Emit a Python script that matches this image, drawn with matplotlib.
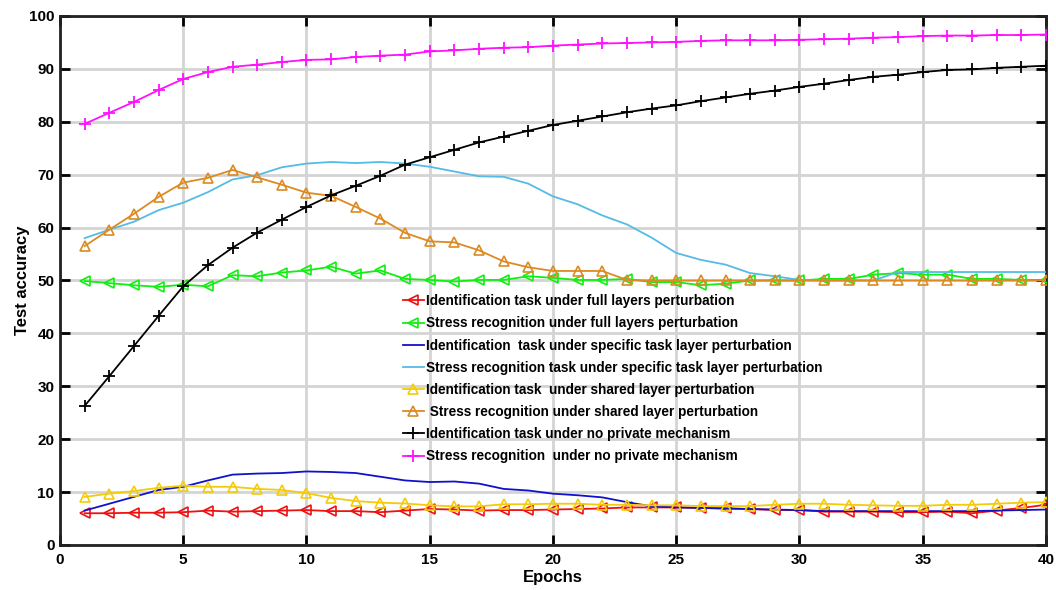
"""
plot.py — Test accuracy vs. epochs under different perturbation settings
"""
import numpy as np
import matplotlib
matplotlib.use("Agg")
import matplotlib.pyplot as plt


# ── Data ──────────────────────────────────────────────────────────────
EPOCHS = list(range(1, 41))

ID_FULL = [6.0, 6.0, 6.1, 6.1, 6.2, 6.5, 6.3, 6.4, 6.5, 6.6,
           6.4, 6.4, 6.2, 6.5, 6.8, 6.7, 6.5, 6.6, 6.6, 6.7,
           6.8, 6.9, 7.1, 7.1, 7.1, 7.0, 6.9, 6.8, 6.6, 6.6,
           6.3, 6.3, 6.3, 6.2, 6.2, 6.3, 6.0, 6.5, 7.0, 7.6]

STRESS_FULL = [49.9, 49.5, 49.1, 48.8, 49.2, 48.9, 51.0, 50.8, 51.5, 51.9,
               52.6, 51.3, 51.9, 50.3, 50.1, 49.8, 50.1, 50.1, 50.8, 50.5,
               50.1, 50.1, 50.3, 49.7, 49.7, 49.1, 49.4, 50.0, 50.0, 50.0,
               50.3, 50.3, 51.1, 51.4, 51.1, 51.1, 50.3, 50.3, 50.1, 50.1]

ID_SPECIFIC = [6.5, 7.8, 9.1, 10.4, 11.0, 12.2, 13.3, 13.5, 13.6, 13.9,
               13.8, 13.6, 12.9, 12.2, 11.9, 12.0, 11.6, 10.6, 10.3, 9.7,
               9.4, 9.0, 8.1, 7.3, 7.1, 7.0, 6.9, 6.8, 6.7, 6.6,
               6.4, 6.4, 6.4, 6.4, 6.4, 6.4, 6.4, 6.5, 6.6, 6.7]

STRESS_SPECIFIC = [58.0, 59.6, 61.1, 63.3, 64.7, 66.7, 69.1, 69.9, 71.4, 72.1,
                   72.4, 72.2, 72.4, 72.1, 71.5, 70.6, 69.7, 69.6, 68.3, 65.9,
                   64.4, 62.3, 60.6, 58.1, 55.2, 53.9, 53.0, 51.4, 50.8, 50.1,
                   50.0, 50.0, 50.0, 51.6, 51.6, 51.6, 51.6, 51.6, 51.6, 51.6]

ID_SHARED = [9.1, 9.7, 10.2, 10.8, 11.2, 11.0, 11.0, 10.6, 10.4, 9.8,
             8.9, 8.3, 8.0, 7.85, 7.5, 7.3, 7.3, 7.7, 7.7, 7.8,
             7.8, 7.6, 7.6, 7.5, 7.5, 7.35, 7.35, 7.35, 7.6, 7.8,
             7.8, 7.6, 7.5, 7.4, 7.4, 7.6, 7.6, 7.8, 8.0, 8.1]

STRESS_SHARED = [56.5, 59.6, 62.6, 65.8, 68.5, 69.4, 70.9, 69.5, 68.1, 66.6,
                 66.0, 63.9, 61.7, 59.0, 57.4, 57.2, 55.7, 53.6, 52.5, 51.8,
                 51.8, 51.8, 50.1, 50.0, 50.0, 50.0, 50.0, 50.0, 50.0, 50.0,
                 50.0, 50.0, 50.0, 50.0, 50.0, 50.0, 50.0, 50.0, 50.0, 50.0]

ID_NO_PRIVATE = [26.3, 31.9, 37.6, 43.3, 48.9, 52.9, 56.2, 59.05, 61.5, 63.9,
                 66.1, 67.9, 69.8, 71.9, 73.3, 74.7, 76.1, 77.2, 78.3, 79.4,
                 80.2, 81.0, 81.8, 82.5, 83.1, 83.9, 84.6, 85.3, 85.9, 86.6,
                 87.2, 87.9, 88.5, 88.9, 89.4, 89.8, 89.9, 90.2, 90.4, 90.6]

STRESS_NO_PRIVATE = [79.6, 81.7, 83.75, 86.0, 88.1, 89.4, 90.4, 90.8, 91.3, 91.7,
                     91.8, 92.25, 92.5, 92.7, 93.3, 93.5, 93.8, 94.0, 94.1, 94.4,
                     94.6, 94.8, 94.9, 95.0, 95.1, 95.3, 95.4, 95.4, 95.4, 95.5,
                     95.6, 95.7, 95.9, 96.0, 96.2, 96.3, 96.3, 96.4, 96.4, 96.5]

LABELS = [
    "Identification task under full layers perturbation",
    "Stress recognition under full layers perturbation",
    "Identification  task under specific task layer perturbation",
    "Stress recognition task under specific task layer perturbation",
    "Identification task  under shared layer perturbation",
    " Stress recognition under shared layer perturbation",
    "Identification task under no private mechanism",
    "Stress recognition  under no private mechanism",
]

X_TICKS = list(range(0, 41, 5))
Y_TICKS = list(range(0, 101, 10))


# ── Style ─────────────────────────────────────────────────────────────
plt.rcParams["font.family"] = ["Liberation Sans", "DejaVu Sans"]
plt.rcParams["font.weight"] = "bold"

# (series, color, marker)
SERIES = [
    (ID_FULL,           "#ee1111", "<"),
    (STRESS_FULL,       "#11ee11", "<"),
    (ID_SPECIFIC,       "#1111cc", None),
    (STRESS_SPECIFIC,   "#55bbe6", None),
    (ID_SHARED,         "#f2cc0a", "^"),
    (STRESS_SHARED,     "#dc8a22", "^"),
    (ID_NO_PRIVATE,     "#000000", "+"),
    (STRESS_NO_PRIVATE, "#ff11ff", "+"),
]


# ── Plot ──────────────────────────────────────────────────────────────
fig = plt.figure(figsize=(10.56, 5.9), dpi=100)
ax = fig.add_axes([0.0568, 0.0763, 0.9337, 0.8966])

for (vals, color, marker), label in zip(SERIES, LABELS):
    if marker is None:
        ax.plot(EPOCHS, vals, color=color, lw=1.3, label=label, zorder=3)
    elif marker == "+":
        ax.plot(EPOCHS, vals, color=color, lw=1.3, marker="+",
                markersize=9, markeredgewidth=1.3, label=label, zorder=3)
    else:
        ax.plot(EPOCHS, vals, color=color, lw=1.3, marker=marker,
                markersize=7.5, markerfacecolor="none",
                markeredgewidth=1.2, label=label, zorder=3)

ax.set_xlim(0, 40)
ax.set_ylim(0, 100)
ax.set_xticks(X_TICKS)
ax.set_yticks(Y_TICKS)
ax.grid(True, color="#d4d4d4", lw=2.0, zorder=0)
ax.set_axisbelow(True)

ax.tick_params(direction="in", length=7, width=2.0, labelsize=11,
               top=True, right=True)
ax.tick_params(axis="x", pad=6)
ax.tick_params(axis="y", pad=4)
for side in ax.spines.values():
    side.set_linewidth(2.0)
    side.set_color("#222222")

for t in ax.get_xticklabels() + ax.get_yticklabels():
    t.set_fontweight("bold")

ax.set_xlabel("Epochs", fontsize=12, fontweight="bold", labelpad=2)
ax.set_ylabel("Test accuracy", fontsize=12, fontweight="bold", labelpad=-1)

ax.legend(loc="upper left", bbox_to_anchor=(0.3405, 0.487), frameon=False,
          handlelength=1.6, handletextpad=0.15,
          labelspacing=0.6, borderpad=0, prop={"weight": "bold", "size": 9.8})

plt.savefig("out.png", dpi=100)
plt.close()
